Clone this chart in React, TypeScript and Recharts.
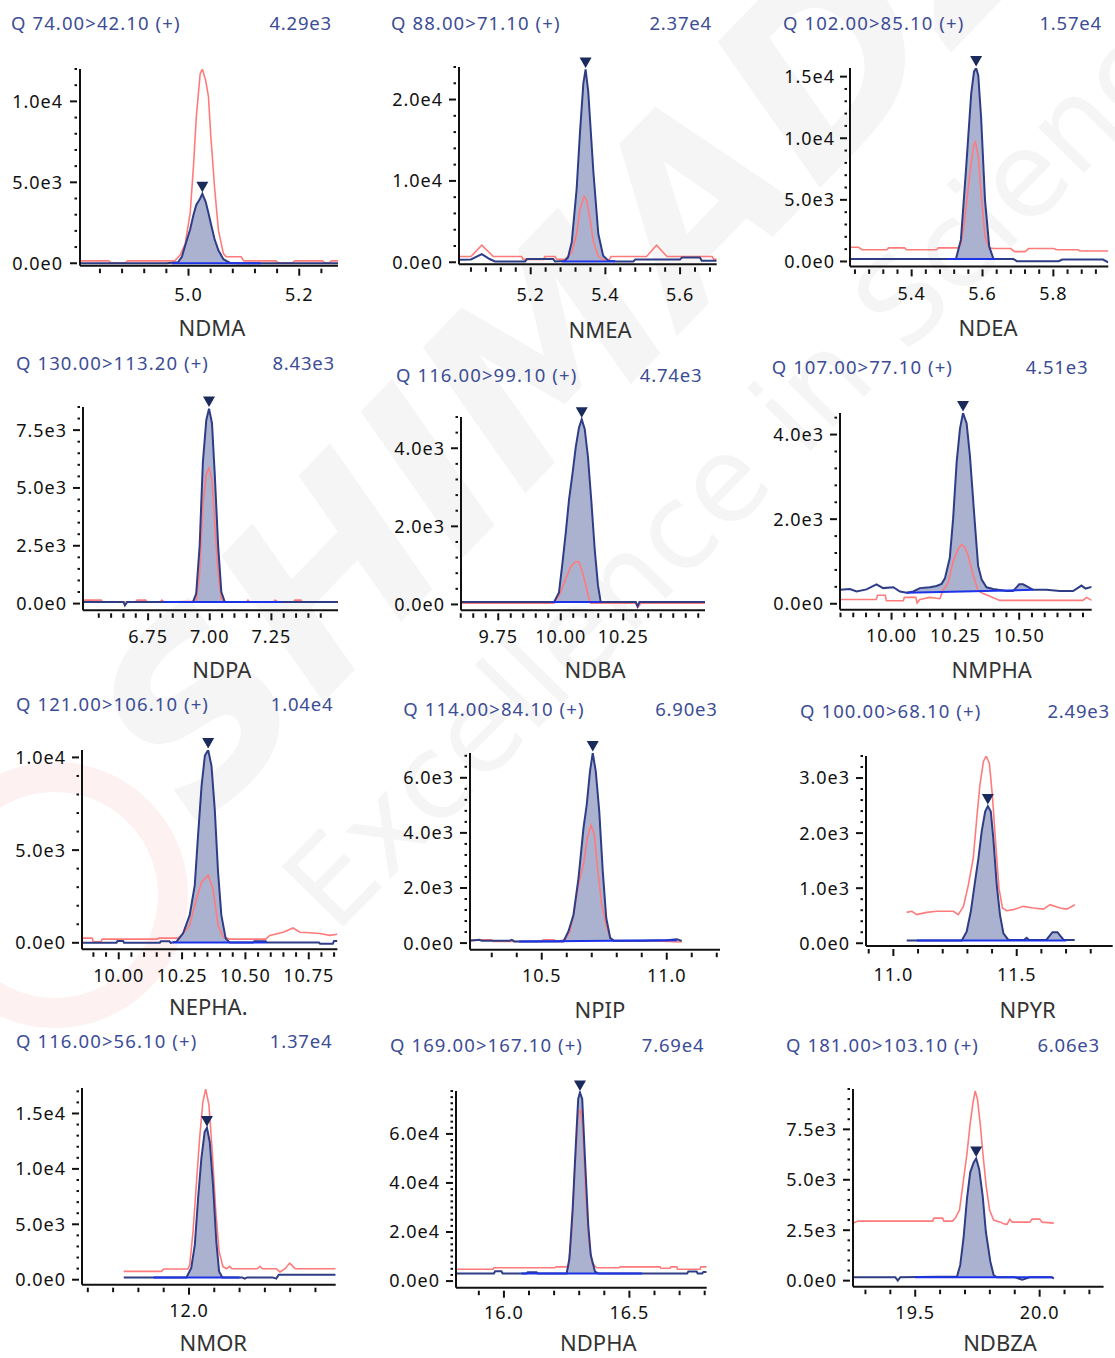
import React from 'react';
import { ComposedChart, Line, Area, XAxis, YAxis, ReferenceDot } from 'recharts';

type Pt = [number, number];

// ---- chromatogram traces: [retention time (min), intensity] ----
// QUANT = quantifier transition (filled peak), REF = reference transition (red),
// BASE = integration baseline end points

const NDMA_QUANT: Pt[] = [
  [4.804, 0], [4.96, 0], [4.981, 60], [4.988, 400], [4.994, 1100], [5.003, 2100], [5.009, 3000],
  [5.014, 3600], [5.021, 4000], [5.025, 4290], [5.031, 3800], [5.036, 3100], [5.04, 2500],
  [5.047, 1500], [5.054, 800], [5.063, 250], [5.075, 20], [5.09, 0], [5.27, 0],
];
const NDMA_REF: Pt[] = [
  [4.804, 150], [4.856, 150], [4.86, 30], [4.886, 30], [4.89, 150], [4.975, 150], [4.985, 500],
  [4.994, 1200], [5.003, 3100], [5.009, 6000], [5.014, 9000], [5.021, 11700], [5.025, 12000],
  [5.031, 11300], [5.036, 10300], [5.04, 8000], [5.047, 4700], [5.054, 2050], [5.063, 600],
  [5.068, 400], [5.095, 400], [5.1, 150], [5.158, 150], [5.162, 30], [5.188, 30], [5.192, 150],
  [5.242, 150], [5.246, 30], [5.254, 30], [5.258, 150], [5.27, 150],
];
const NDMA_BASE: Pt[] = [[4.97, 0], [5.13, 0]];

const NMEA_QUANT: Pt[] = [
  [5.008, 300], [5.04, 350], [5.069, 1000], [5.09, 400], [5.104, 100], [5.185, 100], [5.19, 400],
  [5.26, 400], [5.265, 100], [5.29, 150], [5.3, 600], [5.31, 2500], [5.323, 9000], [5.332, 16000],
  [5.341, 22000], [5.347, 23700], [5.354, 21000], [5.368, 11000], [5.381, 3500], [5.394, 800],
  [5.408, 200], [5.43, 100], [5.475, 100], [5.48, 350], [5.6, 350], [5.605, 600], [5.653, 600],
  [5.658, 200], [5.698, 200],
];
const NMEA_REF: Pt[] = [
  [5.008, 700], [5.04, 700], [5.069, 2100], [5.1, 700], [5.176, 700], [5.18, 350], [5.234, 350],
  [5.238, 700], [5.265, 700], [5.27, 350], [5.292, 350], [5.31, 1200], [5.323, 3500],
  [5.332, 6500], [5.343, 8100], [5.35, 7600], [5.36, 5000], [5.368, 2500], [5.381, 700],
  [5.394, 300], [5.41, 300], [5.415, 700], [5.51, 700], [5.537, 2100], [5.565, 700],
  [5.686, 700], [5.69, 350], [5.698, 350],
];
const NMEA_BASE: Pt[] = [[5.283, 100], [5.426, 100]];

const NDEA_QUANT: Pt[] = [
  [5.226, 190], [5.5, 190], [5.525, 200], [5.539, 1750], [5.554, 7700], [5.568, 13600],
  [5.576, 15400], [5.582, 15700], [5.588, 15100], [5.596, 11700], [5.607, 5000], [5.619, 1200],
  [5.631, 200], [5.687, 200], [5.697, 20], [5.815, 20], [5.825, 150], [5.94, 150], [5.955, -80],
];
const NDEA_REF: Pt[] = [
  [5.226, 1150], [5.25, 1150], [5.26, 950], [5.33, 950], [5.335, 1100], [5.38, 1100],
  [5.385, 950], [5.47, 950], [5.475, 1100], [5.53, 1100], [5.539, 1400], [5.548, 3000],
  [5.558, 5500], [5.568, 8000], [5.576, 9500], [5.58, 9700], [5.588, 8500], [5.596, 5500],
  [5.607, 2000], [5.619, 1100], [5.631, 1050], [5.68, 1050], [5.69, 800], [5.72, 800],
  [5.73, 1050], [5.8, 1050], [5.81, 950], [5.87, 950], [5.875, 850], [5.955, 850],
];
const NDEA_BASE: Pt[] = [[5.5, 190], [5.64, 190]];

const NDPA_QUANT: Pt[] = [
  [6.486, 70], [6.65, 70], [6.656, -80], [6.665, 70], [6.932, 70], [6.945, 430], [6.959, 2500],
  [6.972, 6100], [6.986, 7940], [6.997, 8430], [7.009, 7800], [7.02, 5650], [7.034, 2500],
  [7.047, 500], [7.061, 70], [7.52, 70],
];
const NDPA_REF: Pt[] = [
  [6.486, 150], [6.56, 150], [6.565, 70], [6.7, 70], [6.705, 150], [6.74, 150], [6.745, 70],
  [6.8, 70], [6.805, 150], [6.815, 70], [6.945, 100], [6.959, 1300], [6.972, 4200], [6.986, 5600],
  [6.997, 5860], [7.009, 5350], [7.02, 3500], [7.034, 1300], [7.047, 200], [7.061, 70],
  [7.15, 70], [7.155, 150], [7.16, 70], [7.26, 70], [7.265, 150], [7.275, 70], [7.34, 70],
  [7.345, 150], [7.37, 150], [7.375, 70], [7.52, 70],
];
const NDPA_BASE: Pt[] = [[6.81, 70], [7.29, 70]];

const NDBA_QUANT: Pt[] = [
  [9.601, 60], [9.973, 60], [9.993, 310], [10.007, 1070], [10.02, 1830], [10.033, 2680],
  [10.047, 3350], [10.06, 4030], [10.073, 4530], [10.084, 4740], [10.096, 4490], [10.109, 3770],
  [10.123, 2590], [10.136, 1400], [10.149, 480], [10.16, 60], [10.3, 60], [10.307, -50],
  [10.315, 60], [10.577, 60],
];
const NDBA_REF: Pt[] = [
  [9.601, 30], [9.973, 30], [10.0, 310], [10.02, 660], [10.04, 960], [10.06, 1100],
  [10.073, 1090], [10.087, 830], [10.1, 490], [10.113, 140], [10.12, 30], [10.3, 30],
  [10.31, -60], [10.32, 30], [10.577, 30],
];
const NDBA_BASE: Pt[] = [[9.965, 60], [10.16, 60]];

const NMPHA_QUANT: Pt[] = [
  [9.798, 330], [9.837, 350], [9.863, 290], [9.902, 340], [9.941, 460], [9.967, 370],
  [10.007, 390], [10.033, 290], [10.059, 260], [10.085, 290], [10.111, 370], [10.15, 390],
  [10.176, 420], [10.196, 470], [10.209, 600], [10.228, 1080], [10.241, 2000], [10.255, 3350],
  [10.268, 4140], [10.28, 4510], [10.294, 4270], [10.307, 3500], [10.326, 1930], [10.339, 900],
  [10.353, 570], [10.372, 390], [10.398, 350], [10.45, 300], [10.476, 300], [10.5, 460],
  [10.515, 460], [10.555, 330], [10.607, 330], [10.659, 300], [10.711, 300], [10.744, 430],
  [10.76, 360], [10.784, 400],
];
const NMPHA_REF: Pt[] = [
  [9.798, 100], [9.94, 100], [9.945, 200], [9.975, 200], [9.98, 70], [10.046, 70], [10.05, 150],
  [10.095, 150], [10.1, 20], [10.111, 100], [10.15, 150], [10.189, 120], [10.202, 320],
  [10.222, 500], [10.241, 1000], [10.261, 1300], [10.274, 1400], [10.287, 1330], [10.3, 1140],
  [10.32, 670], [10.339, 310], [10.359, 240], [10.385, 180], [10.424, 80], [10.75, 80],
  [10.764, 150], [10.784, 80],
];
const NMPHA_BASE: Pt[] = [[10.059, 260], [10.555, 330]];

const NEPHA_QUANT: Pt[] = [
  [9.855, 0], [9.991, 0], [9.995, 100], [10.017, 100], [10.021, 0], [10.162, 0], [10.166, 80],
  [10.2, 80], [10.205, 0], [10.228, 60], [10.254, 510], [10.28, 1490], [10.3, 3100],
  [10.313, 5790], [10.327, 8480], [10.34, 10100], [10.353, 10400], [10.366, 9550],
  [10.379, 7200], [10.392, 3820], [10.405, 1490], [10.422, 240], [10.438, 20], [10.53, 20],
  [10.535, 80], [10.58, 80], [10.585, 20], [10.79, 20], [10.795, -50], [10.845, -50],
  [10.85, 100], [10.863, 100],
];
const NEPHA_REF: Pt[] = [
  [9.855, 250], [9.895, 250], [9.9, 60], [9.93, 60], [9.935, 200], [10.15, 200], [10.16, 250],
  [10.235, 250], [10.254, 500], [10.28, 950], [10.307, 2380], [10.327, 3280], [10.353, 3640],
  [10.372, 2920], [10.392, 950], [10.412, 320], [10.438, 200], [10.58, 200], [10.596, 400],
  [10.649, 570], [10.688, 800], [10.715, 570], [10.754, 540], [10.793, 500], [10.833, 400],
  [10.863, 460],
];
const NEPHA_BASE: Pt[] = [[10.214, 20], [10.583, 20]];

const NPIP_QUANT: Pt[] = [
  [10.213, 80], [10.25, 120], [10.26, 80], [10.37, 80], [10.38, 120], [10.39, 60], [10.587, 60],
  [10.607, 430], [10.627, 1030], [10.647, 2360], [10.667, 4180], [10.68, 5030], [10.693, 6240],
  [10.704, 6900], [10.716, 6240], [10.73, 4790], [10.744, 2610], [10.758, 910], [10.774, 180],
  [10.79, 80], [10.9, 80], [11.0, 100], [11.04, 140], [11.06, 80],
];
const NPIP_REF: Pt[] = [
  [10.213, 120], [10.3, 120], [10.305, 60], [10.5, 60], [10.505, 120], [10.55, 120],
  [10.555, 60], [10.593, 120], [10.613, 430], [10.627, 1030], [10.647, 2120], [10.667, 2850],
  [10.682, 3820], [10.697, 4280], [10.71, 3940], [10.726, 2480], [10.74, 1390], [10.757, 670],
  [10.773, 210], [10.786, 80], [10.95, 80], [11.06, 40],
];
const NPIP_BASE: Pt[] = [[10.41, 60], [11.04, 100]];

const NPYR_QUANT: Pt[] = [
  [11.054, 50], [11.277, 50], [11.297, 210], [11.314, 580], [11.331, 1120], [11.345, 1550],
  [11.358, 2030], [11.372, 2390], [11.383, 2490], [11.395, 2390], [11.405, 1910],
  [11.419, 1060], [11.432, 520], [11.446, 180], [11.466, 60], [11.53, 60], [11.54, 100],
  [11.55, 60], [11.62, 60], [11.645, 200], [11.665, 200], [11.69, 60], [11.735, 60],
];
const NPYR_REF: Pt[] = [
  [11.054, 560], [11.075, 580], [11.095, 520], [11.135, 560], [11.176, 580], [11.243, 580],
  [11.263, 520], [11.284, 670], [11.304, 1060], [11.324, 1550], [11.338, 2270], [11.351, 2880],
  [11.365, 3300], [11.376, 3400], [11.389, 3270], [11.401, 2700], [11.415, 1790],
  [11.428, 1000], [11.442, 640], [11.459, 590], [11.486, 610], [11.527, 670], [11.567, 640],
  [11.608, 620], [11.635, 700], [11.676, 640], [11.703, 620], [11.736, 700],
];
const NPYR_BASE: Pt[] = [[11.095, 50], [11.7, 50]];

const NMOR_QUANT: Pt[] = [
  [11.742, 210], [11.99, 210], [12.009, 1060], [12.023, 3150], [12.036, 7350], [12.049, 10950],
  [12.062, 13350], [12.071, 13700], [12.082, 12450], [12.095, 8550], [12.108, 3450],
  [12.119, 750], [12.132, 210], [12.21, 210], [12.22, 100], [12.23, 210], [12.33, 210],
  [12.345, 100], [12.355, 450], [12.58, 450],
];
const NMOR_REF: Pt[] = [
  [11.742, 750], [11.891, 750], [11.9, 960], [11.996, 960], [12.003, 1350], [12.016, 4350],
  [12.029, 8550], [12.042, 12750], [12.055, 16050], [12.066, 17200], [12.079, 15750],
  [12.092, 11550], [12.106, 6150], [12.119, 2550], [12.134, 1200], [12.148, 990],
  [12.161, 1200], [12.17, 990], [12.27, 990], [12.28, 1200], [12.29, 990], [12.345, 990],
  [12.36, 700], [12.38, 990], [12.398, 1500], [12.42, 1000], [12.437, 990], [12.58, 990],
];
const NMOR_BASE: Pt[] = [[11.86, 210], [12.2, 210]];

const NDPHA_QUANT: Pt[] = [
  [15.809, 3100], [15.96, 3100], [15.965, 4000], [15.99, 4000], [15.995, 3100], [16.09, 3100],
  [16.095, 3600], [16.13, 3600], [16.135, 3100], [16.25, 3100], [16.261, 9200],
  [16.274, 29500], [16.287, 56600], [16.296, 74300], [16.303, 76900], [16.312, 74300],
  [16.323, 49900], [16.336, 22800], [16.346, 10600], [16.363, 3800], [16.376, 3100],
  [16.73, 3100], [16.735, 3900], [16.768, 3900], [16.772, 3100], [16.79, 3100],
  [16.795, 3700], [16.808, 3700],
];
const NDPHA_REF: Pt[] = [
  [15.809, 4800], [15.957, 4800], [15.96, 5400], [16.203, 5400], [16.207, 5800], [16.245, 5800],
  [16.257, 6000], [16.27, 19500], [16.283, 46600], [16.296, 68300], [16.306, 69600],
  [16.314, 62800], [16.326, 35600], [16.339, 15300], [16.352, 7200], [16.37, 5400],
  [16.46, 5400], [16.463, 5800], [16.622, 5800], [16.625, 5200], [16.662, 5200],
  [16.665, 5800], [16.689, 5800], [16.692, 4800], [16.782, 4800], [16.785, 5800],
  [16.808, 5800],
];
const NDPHA_BASE: Pt[] = [[16.07, 3100], [16.55, 3100]];

const NDBZA_QUANT: Pt[] = [
  [19.25, 170], [19.42, 170], [19.43, 0], [19.44, 170], [19.668, 200], [19.681, 780],
  [19.694, 2090], [19.708, 4060], [19.721, 5370], [19.735, 5860], [19.745, 6060],
  [19.757, 5530], [19.771, 4220], [19.784, 2410], [19.802, 940], [19.815, 280], [19.828, 170],
  [19.9, 170], [19.93, 50], [19.96, 170], [20.05, 170], [20.057, 100],
];
const NDBZA_REF: Pt[] = [
  [19.25, 2850], [19.27, 2950], [19.57, 2950], [19.575, 3100], [19.61, 3100], [19.615, 2950],
  [19.65, 2950], [19.661, 3100], [19.678, 3500], [19.694, 5000], [19.708, 6300], [19.721, 7800],
  [19.732, 8800], [19.741, 9400], [19.75, 9000], [19.761, 7800], [19.772, 6300], [19.785, 4700],
  [19.799, 3500], [19.815, 3000], [19.842, 2900], [19.86, 2800], [19.87, 2800], [19.88, 3050],
  [19.89, 2900], [19.96, 2900], [19.97, 3050], [20.0, 3050], [20.01, 2900], [20.057, 2850],
];
const NDBZA_BASE: Pt[] = [[19.5, 170], [20.05, 170]];

// ---- compound names, MRM transitions and axis ticks ----
const NAMES = ['NDMA', 'NMEA', 'NDEA', 'NDPA', 'NDBA', 'NMPHA', 'NEPHA.', 'NPIP', 'NPYR', 'NMOR', 'NDPHA', 'NDBZA'];
const TRANSITIONS = [
  'Q 74.00>42.10 (+)', 'Q 88.00>71.10 (+)', 'Q 102.00>85.10 (+)',
  'Q 130.00>113.20 (+)', 'Q 116.00>99.10 (+)', 'Q 107.00>77.10 (+)',
  'Q 121.00>106.10 (+)', 'Q 114.00>84.10 (+)', 'Q 100.00>68.10 (+)',
  'Q 116.00>56.10 (+)', 'Q 169.00>167.10 (+)', 'Q 181.00>103.10 (+)',
];
const X_MAJOR_TICKS = [
  [5.0, 5.2], [5.2, 5.4, 5.6], [5.4, 5.6, 5.8],
  [6.75, 7.0, 7.25], [9.75, 10.0, 10.25], [10.0, 10.25, 10.5],
  [10.0, 10.25, 10.5, 10.75], [10.5, 11.0], [11.0, 11.5],
  [12.0], [16.0, 16.5], [19.5, 20.0],
];
const Y_MAJOR_TICKS = [
  [0, 5000, 10000], [0, 10000, 20000], [0, 5000, 10000, 15000],
  [0, 2500, 5000, 7500], [0, 2000, 4000], [0, 2000, 4000],
  [0, 5000, 10000], [0, 2000, 4000, 6000], [0, 1000, 2000, 3000],
  [0, 5000, 10000, 15000], [0, 20000, 40000, 60000], [0, 2500, 5000, 7500],
];

type Spec = {
  quant: Pt[]; ref: Pt[]; base: Pt[];
  xDomain: [number, number]; yDomain: [number, number];
  xMinor: [number, number, number]; yMinor: [number, number]; xDigits: number;
};

const SPECS: Spec[] = [
  { quant: NDMA_QUANT, ref: NDMA_REF, base: NDMA_BASE, xDomain: [4.804, 5.27], yDomain: [-150, 12000], xMinor: [4.84, 5.24, 0.04], yMinor: [1000, 12000], xDigits: 1 },
  { quant: NMEA_QUANT, ref: NMEA_REF, base: NMEA_BASE, xDomain: [5.008, 5.698], yDomain: [-250, 24000], xMinor: [5.04, 5.68, 0.04], yMinor: [2000, 24000], xDigits: 1 },
  { quant: NDEA_QUANT, ref: NDEA_REF, base: NDEA_BASE, xDomain: [5.226, 5.955], yDomain: [-400, 15700], xMinor: [5.24, 5.92, 0.04], yMinor: [1000, 15000], xDigits: 1 },
  { quant: NDPA_QUANT, ref: NDPA_REF, base: NDPA_BASE, xDomain: [6.486, 7.52], yDomain: [-290, 8500], xMinor: [6.55, 7.45, 0.05], yMinor: [500, 8500], xDigits: 2 },
  { quant: NDBA_QUANT, ref: NDBA_REF, base: NDBA_BASE, xDomain: [9.601, 10.577], yDomain: [-150, 4800], xMinor: [9.6, 10.55, 0.05], yMinor: [400, 4800], xDigits: 2 },
  { quant: NMPHA_QUANT, ref: NMPHA_REF, base: NMPHA_BASE, xDomain: [9.798, 10.784], yDomain: [-140, 4510], xMinor: [9.8, 10.75, 0.05], yMinor: [400, 4400], xDigits: 2 },
  { quant: NEPHA_QUANT, ref: NEPHA_REF, base: NEPHA_BASE, xDomain: [9.855, 10.863], yDomain: [-350, 10400], xMinor: [9.9, 10.85, 0.05], yMinor: [1000, 10000], xDigits: 2 },
  { quant: NPIP_QUANT, ref: NPIP_REF, base: NPIP_BASE, xDomain: [10.213, 11.213], yDomain: [-240, 6900], xMinor: [10.3, 11.2, 0.1], yMinor: [400, 6800], xDigits: 1 },
  { quant: NPYR_QUANT, ref: NPYR_REF, base: NPYR_BASE, xDomain: [10.889, 11.889], yDomain: [-50, 3400], xMinor: [10.9, 11.8, 0.1], yMinor: [200, 3400], xDigits: 1 },
  { quant: NMOR_QUANT, ref: NMOR_REF, base: NMOR_BASE, xDomain: [11.577, 12.58], yDomain: [-450, 17300], xMinor: [11.6, 12.5, 0.1], yMinor: [1000, 17000], xDigits: 1 },
  { quant: NDPHA_QUANT, ref: NDPHA_REF, base: NDPHA_BASE, xDomain: [15.809, 16.808], yDomain: [-2700, 77500], xMinor: [15.9, 16.8, 0.1], yMinor: [2500, 77500], xDigits: 1 },
  { quant: NDBZA_QUANT, ref: NDBZA_REF, base: NDBZA_BASE, xDomain: [19.25, 20.257], yDomain: [-300, 9500], xMinor: [19.3, 20.2, 0.1], yMinor: [500, 9500], xDigits: 1 },
];

// ---- page layout of each panel (plot rectangle and text anchors, px) ----
type Box = { L: number; T: number; R: number; B: number; hx: number; hy: number; ix: number; nx: number; ny: number; xdy: number; ly: number };
const LAYOUT: Box[] = [
  { L: 80, T: 69, R: 338, B: 265.7, hx: 11, hy: 23, ix: 332, nx: 212, ny: 328, xdy: 29, ly: 17 },
  { L: 459, T: 66.7, R: 716.7, B: 264, hx: 391, hy: 23, ix: 712, nx: 600, ny: 330, xdy: 30, ly: 16 },
  { L: 850, T: 68.3, R: 1108.3, B: 266.7, hx: 783, hy: 23, ix: 1102, nx: 988, ny: 328, xdy: 27, ly: 15 },
  { L: 83.3, T: 406.7, R: 338.3, B: 610, hx: 16, hy: 363.3, ix: 335, nx: 221.7, ny: 670, xdy: 26, ly: 16 },
  { L: 461, T: 416.7, R: 705, B: 610, hx: 396, hy: 375, ix: 702.3, nx: 595, ny: 670, xdy: 26, ly: 16 },
  { L: 840, T: 413.3, R: 1091.7, B: 610, hx: 771.7, hy: 367.7, ix: 1088.3, nx: 991.7, ny: 670, xdy: 26, ly: 16 },
  { L: 82.3, T: 750, R: 337.7, B: 949.3, hx: 16, hy: 704, ix: 333.3, nx: 208.3, ny: 1006.7, xdy: 26, ly: 16 },
  { L: 470, T: 753.3, R: 720, B: 950, hx: 403.3, hy: 709, ix: 717.7, nx: 600, ny: 1010, xdy: 26, ly: 16 },
  { L: 866, T: 756, R: 1112.7, B: 946, hx: 800, hy: 711, ix: 1110, nx: 1027.7, ny: 1010, xdy: 29, ly: 16 },
  { L: 82.3, T: 1088.3, R: 336, B: 1285, hx: 16, hy: 1041.7, ix: 332.3, nx: 213.3, ny: 1343.5, xdy: 26, ly: 16 },
  { L: 456, T: 1091, R: 706.7, B: 1287.7, hx: 390, hy: 1045.7, ix: 704.3, nx: 598.3, ny: 1343.5, xdy: 25, ly: 16 },
  { L: 852.7, T: 1089, R: 1103.3, B: 1286.7, hx: 786, hy: 1045.7, ix: 1100, nx: 1000, ny: 1343.5, xdy: 26, ly: 16 },
];

const FONT = "'Noto Sans', 'Open Sans', sans-serif";
const HEAD_COLOR = '#3c4d96';
const REF_COLOR = '#ff7b7b';
const QUANT_COLOR = '#2e3d85';
const BASE_COLOR = '#1c33e8';
const FILL_COLOR = '#aab2d0';
const TICK_FS = 18;
const HEAD_FS = 18.5;
const NAME_FS = 22;

const fmtExp = (v: number, d: number) => v.toExponential(d).replace('e+', 'e');
const steps = (from: number, to: number, step: number) => {
  const out: number[] = [];
  const n = Math.round((to - from) / step);
  for (let i = 0; i <= n; i++) out.push(Math.round((from + i * step) * 1e6) / 1e6);
  return out;
};
const has = (arr: number[], v: number) => arr.some((a) => Math.abs(a - v) < 1e-6);
const merge = (a: number[], b: number[]) => {
  const out = [...a];
  b.forEach((v) => { if (!has(out, v)) out.push(v); });
  return out.sort((p, q) => p - q);
};
const toRows = (pts: Pt[]) => pts.map(([t, v]) => ({ t, v }));
const peakOf = (pts: Pt[]) => pts.reduce((a, p) => (p[1] > a[1] ? p : a), pts[0]);

function PeakMarker(props: any) {
  const { cx, cy } = props;
  if (cx == null || cy == null) return null;
  return <path d={`M${cx - 6},${cy - 12} L${cx + 6},${cy - 12} L${cx},${cy - 1.5} Z`} fill="#1b2a5c" />;
}

function Panel({ spec, box, majorsX, majorsY }: { spec: Spec; box: Box; majorsX: number[]; majorsY: number[] }) {
  const YW = 90;
  const TOPM = 24;
  const RIGHTM = 12;
  const XH = 50;
  const width = box.R - box.L + YW + RIGHTM;
  const height = box.B - box.T + TOPM + XH;

  const xTicks = merge(majorsX, steps(spec.xMinor[0], spec.xMinor[1], spec.xMinor[2]));
  const yTicks = merge(majorsY, steps(0, spec.yMinor[1], spec.yMinor[0]));

  const [b0, b1] = spec.base;
  const baseAt = (t: number) => b0[1] + ((b1[1] - b0[1]) * (t - b0[0])) / (b1[0] - b0[0]);
  const fillRows = spec.quant
    .filter(([t]) => t >= b0[0] && t <= b1[0])
    .map(([t, v]) => ({ t, r: [baseAt(t), Math.max(v, baseAt(t))] }));
  const apex = peakOf(spec.quant);

  const xTick = (p: any) => {
    const { x, y, payload } = p;
    const v = payload.value;
    const major = has(majorsX, v);
    return (
      <g>
        <line x1={x} x2={x} y1={y + 3} y2={y + (major ? 10 : 7.5)} stroke="#111" strokeWidth={2} />
        {major && (
          <text x={x} y={y + box.xdy + TICK_FS * 0.357} textAnchor="middle" fontFamily={FONT}
            fontSize={TICK_FS} fill="#111" style={{ letterSpacing: '1px' }}>
            {v.toFixed(spec.xDigits)}
          </text>
        )}
      </g>
    );
  };
  const yTick = (p: any) => {
    const { x, y, payload } = p;
    const v = payload.value;
    const major = has(majorsY, v);
    return (
      <g>
        <line x1={x - (major ? 10 : 5.5)} x2={x - 3} y1={y} y2={y} stroke="#111" strokeWidth={2} />
        {major && (
          <text x={x - box.ly} y={y + TICK_FS * 0.357} textAnchor="end" fontFamily={FONT}
            fontSize={TICK_FS} fill="#111" style={{ letterSpacing: '1px' }}>
            {fmtExp(v, 1)}
          </text>
        )}
      </g>
    );
  };

  return (
    <div style={{ position: 'absolute', left: box.L - YW, top: box.T - TOPM, width, height }}>
      <ComposedChart width={width} height={height} margin={{ top: TOPM, right: RIGHTM, left: 0, bottom: 0 }}>
        <XAxis type="number" dataKey="t" domain={spec.xDomain} allowDataOverflow ticks={xTicks}
          interval={0} tickSize={0} tickMargin={0} tickLine={false} tick={xTick} height={XH}
          axisLine={{ stroke: '#111', strokeWidth: 2 }} />
        <YAxis type="number" domain={spec.yDomain} allowDataOverflow ticks={yTicks}
          interval={0} tickSize={0} tickMargin={0} tickLine={false} tick={yTick} width={YW}
          axisLine={{ stroke: '#111', strokeWidth: 2 }} />
        <Area data={fillRows} dataKey="r" type="linear" stroke="none" fill={FILL_COLOR}
          fillOpacity={1} isAnimationActive={false} />
        <Line data={toRows(spec.ref)} dataKey="v" type="linear" stroke={REF_COLOR} strokeWidth={1.6}
          dot={false} isAnimationActive={false} />
        <Line data={toRows(spec.quant)} dataKey="v" type="linear" stroke={QUANT_COLOR} strokeWidth={2}
          dot={false} isAnimationActive={false} />
        <Line data={toRows(spec.base)} dataKey="v" type="linear" stroke={BASE_COLOR} strokeWidth={2}
          dot={false} isAnimationActive={false} />
        <ReferenceDot x={apex[0]} y={apex[1]} r={0} ifOverflow="visible" shape={PeakMarker} />
      </ComposedChart>
    </div>
  );
}

export default function App() {
  return (
    <div style={{ position: 'absolute', left: 0, top: 0, width: 1115, height: 1358, background: '#fff', overflow: 'hidden' }}>
      {/* faint brand watermark behind the panels */}
      <svg width={1115} height={1358} style={{ position: 'absolute', left: 0, top: 0 }}>
        <circle cx={55} cy={895} r={118} fill="none" stroke="#fdf1f1" strokeWidth={30} />
        <text x={200} y={830} transform="rotate(-46 200 830)" fontFamily="'DejaVu Sans', sans-serif"
          fontWeight={700} fontStyle="italic" fontSize={240} fill="#f5f5f5">SHIMADZU</text>
        <text x={335} y={935} transform="rotate(-45.5 335 935)" fontFamily="'DejaVu Sans', sans-serif"
          fontSize={118} fill="#f5f5f5">Excellence in Science</text>
      </svg>

      {SPECS.map((spec, i) => (
        <Panel key={NAMES[i]} spec={spec} box={LAYOUT[i]} majorsX={X_MAJOR_TICKS[i]} majorsY={Y_MAJOR_TICKS[i]} />
      ))}

      <svg width={1115} height={1358} style={{ position: 'absolute', left: 0, top: 0, pointerEvents: 'none' }}>
        {SPECS.map((spec, i) => {
          const box = LAYOUT[i];
          const apex = peakOf(spec.quant);
          return (
            <g key={NAMES[i]}>
              <text x={box.hx} y={box.hy + HEAD_FS * 0.357} fontFamily={FONT} fontSize={HEAD_FS}
                fill={HEAD_COLOR} style={{ letterSpacing: '1.1px' }}>{TRANSITIONS[i]}</text>
              <text x={box.ix} y={box.hy + HEAD_FS * 0.357} fontFamily={FONT} fontSize={HEAD_FS}
                fill={HEAD_COLOR} textAnchor="end" style={{ letterSpacing: '0.8px' }}>{fmtExp(apex[1], 2)}</text>
              <text x={box.nx} y={box.ny + NAME_FS * 0.357} fontFamily={FONT} fontSize={NAME_FS}
                fill="#333" textAnchor="middle">{NAMES[i]}</text>
            </g>
          );
        })}
      </svg>
    </div>
  );
}
